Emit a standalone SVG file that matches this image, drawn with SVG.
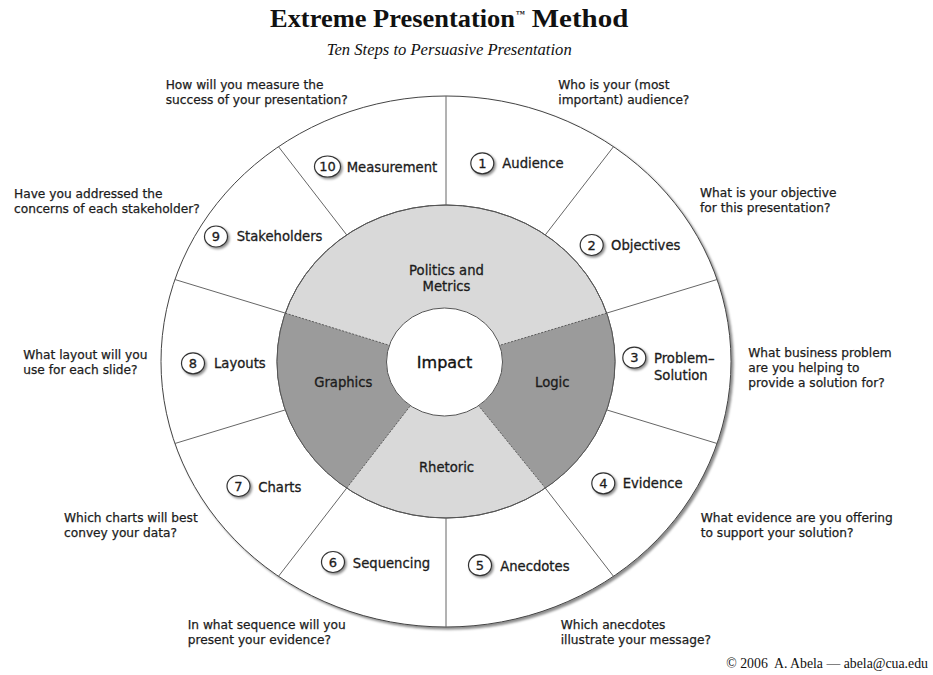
<svg xmlns="http://www.w3.org/2000/svg" width="933" height="675" viewBox="0 0 933 675">
<style>
.q{font-family:"DejaVu Sans",sans-serif;font-size:12.2px;fill:#1c1c1c;stroke:#1c1c1c;stroke-width:0.25}
.lb{font-family:"DejaVu Sans",sans-serif;font-size:13.2px;fill:#1c1c1c;stroke:#1c1c1c;stroke-width:0.3}
.num{font-family:"DejaVu Sans",sans-serif;font-size:13px;fill:#1c1c1c;text-anchor:middle;stroke:#1c1c1c;stroke-width:0.3}
.nc{fill:#fff;stroke:#333;stroke-width:1.2;filter:url(#sh)}
.ct{font-family:"DejaVu Sans",sans-serif;font-size:13.2px;fill:#1c1c1c;text-anchor:middle;stroke:#1c1c1c;stroke-width:0.3}
.div{stroke:#666;stroke-width:1;fill:none}
.dash{stroke:#444;stroke-width:0.8;stroke-dasharray:2 1.5;fill:none}
.ser{font-family:"Liberation Serif",serif;fill:#111}
</style>
<defs>
<filter id="sh" x="-40%" y="-40%" width="180%" height="180%">
<feDropShadow dx="1.6" dy="1.6" stdDeviation="0.9" flood-color="#000" flood-opacity="0.45"/>
</filter>
<filter id="osh" x="-5%" y="-5%" width="110%" height="110%">
<feDropShadow dx="2.2" dy="2.2" stdDeviation="1.2" flood-color="#000" flood-opacity="0.45"/>
</filter>
</defs>
<rect width="933" height="675" fill="#fff"/>

<g id="title">
<text class="ser" x="270" y="27.3" font-size="26" font-weight="bold" textLength="245" lengthAdjust="spacingAndGlyphs">Extreme Presentation</text>
<text class="ser" x="516" y="17" font-size="9" font-weight="bold">™</text>
<text class="ser" x="531.7" y="27.3" font-size="26" font-weight="bold" textLength="96.6" lengthAdjust="spacingAndGlyphs">Method</text>
<text class="ser" x="326.7" y="55" font-size="16" font-style="italic" textLength="245" lengthAdjust="spacingAndGlyphs">Ten Steps to Persuasive Presentation</text>
</g>

<g id="outer-ring">
<ellipse cx="446" cy="361.5" rx="285" ry="265.5" fill="#fff" stroke="#444" stroke-width="1" filter="url(#osh)"/>
</g>

<g id="middle-ring">
<ellipse id="politics-metrics" cx="446" cy="361.5" rx="169" ry="156.5" fill="#d9d9d9" stroke="#555" stroke-width="1"/>
<path id="logic" d="M606.7,313.1 A169,156.5 0 0 1 545.3,488.1 L478.6,405.7 A58,54 0 0 0 499.7,345.3 Z" fill="#9b9b9b"/>
<path id="graphics" d="M346.7,488.1 A169,156.5 0 0 1 285.3,313.1 L389.3,345.3 A58,54 0 0 0 410.4,405.7 Z" fill="#9b9b9b"/>
<ellipse cx="446" cy="361.5" rx="169" ry="156.5" fill="none" stroke="#555" stroke-width="1"/>
<text class="ct" x="446.5" y="275">Politics and</text>
<text class="ct" x="446.5" y="290.7">Metrics</text>
<text class="ct" x="552.3" y="386.7">Logic</text>
<text class="ct" x="446.5" y="471.7">Rhetoric</text>
<text class="ct" x="343.3" y="386.7">Graphics</text>
</g>

<g id="connectors">
<line class="div" x1="446" y1="96" x2="446" y2="205"/>
<line class="div" x1="613.5" y1="146.7" x2="545.3" y2="234.9"/>
<line class="div" x1="717.1" y1="279.5" x2="606.7" y2="313.1"/>
<line class="div" x1="717.1" y1="443.5" x2="606.7" y2="409.9"/>
<line class="div" x1="613.5" y1="576.3" x2="545.3" y2="488.1"/>
<line class="div" x1="446" y1="627" x2="446" y2="518"/>
<line class="div" x1="278.5" y1="576.3" x2="346.7" y2="488.1"/>
<line class="div" x1="174.9" y1="443.5" x2="285.3" y2="409.9"/>
<line class="div" x1="174.9" y1="279.5" x2="285.3" y2="313.1"/>
<line class="div" x1="278.5" y1="146.7" x2="346.7" y2="234.9"/>
<line class="dash" x1="606.7" y1="313.1" x2="499.7" y2="345.3"/>
<line class="dash" x1="545.3" y1="488.1" x2="478.6" y2="405.7"/>
<line class="dash" x1="346.7" y1="488.1" x2="410.4" y2="405.7"/>
<line class="dash" x1="285.3" y1="313.1" x2="389.3" y2="345.3"/>
</g>

<g id="impact">
<ellipse cx="444.5" cy="362" rx="58" ry="54" fill="#fff" stroke="#555" stroke-width="1"/>
<text x="444.5" y="368.3" font-family="DejaVu Sans,sans-serif" font-size="16" fill="#111" stroke="#111" stroke-width="0.35" text-anchor="middle">Impact</text>
</g>

<g id="step1">
<ellipse class="nc" cx="482.3" cy="163.3" rx="11.5" ry="10.5"/>
<text class="num" x="482.3" y="168">1</text>
<text class="lb" x="502.3" y="168.3">Audience</text>
<text class="q" x="558.3" y="89.3">Who is your (most</text>
<text class="q" x="558.3" y="104.3">important) audience?</text>
</g>
<g id="step2">
<ellipse class="nc" cx="591.7" cy="245" rx="11.5" ry="10.5"/>
<text class="num" x="591.7" y="249.7">2</text>
<text class="lb" x="611" y="250">Objectives</text>
<text class="q" x="700" y="197.3">What is your objective</text>
<text class="q" x="700" y="211.8">for this presentation?</text>
</g>
<g id="step3">
<ellipse class="nc" cx="634.3" cy="357.7" rx="11.5" ry="10.5"/>
<text class="num" x="634.3" y="362.4">3</text>
<text class="lb" x="654" y="363.3">Problem–</text>
<text class="lb" x="654" y="380">Solution</text>
<text class="q" x="748.3" y="357.3">What business problem</text>
<text class="q" x="748.3" y="372.1">are you helping to</text>
<text class="q" x="748.3" y="386.8">provide a solution for?</text>
</g>
<g id="step4">
<ellipse class="nc" cx="603.3" cy="483.3" rx="11.5" ry="10.5"/>
<text class="num" x="603.3" y="488">4</text>
<text class="lb" x="622.7" y="488.3">Evidence</text>
<text class="q" x="700.7" y="521.7">What evidence are you offering</text>
<text class="q" x="700.7" y="536.5">to support your solution?</text>
</g>
<g id="step5">
<ellipse class="nc" cx="480" cy="565.2" rx="11.5" ry="10.5"/>
<text class="num" x="480" y="569.9">5</text>
<text class="lb" x="500.2" y="571.2">Anecdotes</text>
<text class="q" x="560.7" y="629">Which anecdotes</text>
<text class="q" x="560.7" y="643.6">illustrate your message?</text>
</g>
<g id="step6">
<ellipse class="nc" cx="333" cy="562" rx="11.5" ry="10.5"/>
<text class="num" x="333" y="566.7">6</text>
<text class="lb" x="352.8" y="568">Sequencing</text>
<text class="q" x="187.7" y="629.3">In what sequence will you</text>
<text class="q" x="187.7" y="643.8">present your evidence?</text>
</g>
<g id="step7">
<ellipse class="nc" cx="238.5" cy="486" rx="11.5" ry="10.5"/>
<text class="num" x="238.5" y="490.7">7</text>
<text class="lb" x="258.3" y="491.7">Charts</text>
<text class="q" x="64" y="522.3">Which charts will best</text>
<text class="q" x="64" y="537.2">convey your data?</text>
</g>
<g id="step8">
<ellipse class="nc" cx="193" cy="363.3" rx="11.5" ry="10.5"/>
<text class="num" x="193" y="368">8</text>
<text class="lb" x="214" y="368.3">Layouts</text>
<text class="q" x="23.3" y="359.3">What layout will you</text>
<text class="q" x="23.3" y="374">use for each slide?</text>
</g>
<g id="step9">
<ellipse class="nc" cx="216" cy="236.5" rx="11.5" ry="10.5"/>
<text class="num" x="216" y="241.2">9</text>
<text class="lb" x="236.7" y="240.7">Stakeholders</text>
<text class="q" x="14" y="198.3">Have you addressed the</text>
<text class="q" x="14" y="212.8">concerns of each stakeholder?</text>
</g>
<g id="step10">
<ellipse class="nc" cx="327.5" cy="166.5" rx="13" ry="10.5"/>
<text class="num" x="327.5" y="171.2">10</text>
<text class="lb" x="346.7" y="171.7">Measurement</text>
<text class="q" x="165.7" y="89.3">How will you measure the</text>
<text class="q" x="165.7" y="104.3">success of your presentation?</text>
</g>

<g id="footer">
<text class="ser" x="928" y="668" font-size="13.8" text-anchor="end" xml:space="preserve">© 2006  A. Abela — abela@cua.edu</text>
</g>
</svg>
